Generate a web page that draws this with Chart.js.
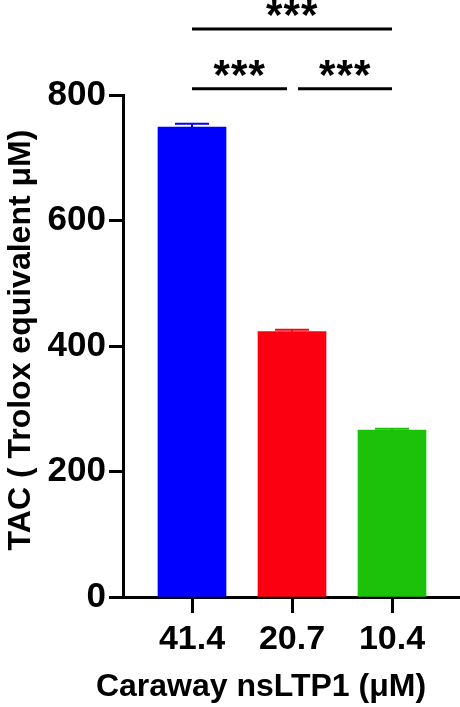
<!DOCTYPE html>
<html>
<head>
<meta charset="utf-8">
<script src="https://cdn.jsdelivr.net/npm/chart.js@4/dist/chart.umd.min.js"></script>
<style>
  html, body { margin: 0; padding: 0; background: #fff; }
  #wrap { width: 460px; height: 707px; position: relative; }
</style>
</head>
<body>
<div id="wrap"><canvas id="c"></canvas></div>
<script>
const categories = ['41.4', '20.7', '10.4'];
const values = [749, 423, 266];
const errors = [5, 3, 2];
const barColors = ['#0000FF', '#FA0010', '#1CC10A'];
const yTicks = [0, 200, 400, 600, 800];
const comparisons = [
  { from: 0, to: 1, label: '***', level: 810 },
  { from: 1, to: 2, label: '***', level: 810 },
  { from: 0, to: 2, label: '***', level: 905 }
];
const xTitle = 'Caraway nsLTP1 (\u03BCM)';
const yTitle = 'TAC ( Trolox equivalent \u03BCM)';

const FONT = "'Liberation Sans', Arial, Helvetica, sans-serif";

const extrasPlugin = {
  id: 'extras',
  afterDatasetsDraw(chart) {
    const ctx = chart.ctx;
    const xs = chart.scales.x, ys = chart.scales.y;
    const meta = chart.getDatasetMeta(0);
    values.forEach((v, i) => {
      const bar = meta.data[i];
      const cx = xs.getPixelForValue(i);
      const yb = ys.getPixelForValue(v);
      const yt = ys.getPixelForValue(v + errors[i]);
      const half = bar.width / 4;
      ctx.save();
      ctx.strokeStyle = barColors[i];
      ctx.lineWidth = 2;
      ctx.beginPath();
      ctx.moveTo(cx, yb);
      ctx.lineTo(cx, yt);
      ctx.moveTo(cx - half, yt);
      ctx.lineTo(cx + half, yt);
      ctx.stroke();
      ctx.restore();
    });
  },
  afterDraw(chart) {
    const ctx = chart.ctx;
    const xs = chart.scales.x, ys = chart.scales.y;
    comparisons.forEach((c) => {
      let x1 = xs.getPixelForValue(c.from);
      let x2 = xs.getPixelForValue(c.to);
      comparisons.forEach((o) => {
        if (o === c || o.level !== c.level) return;
        if (o.to === c.from) x1 += 6;
        if (o.from === c.to) x2 -= 5;
      });
      const y = ys.getPixelForValue(c.level);
      ctx.save();
      ctx.strokeStyle = '#000';
      ctx.lineWidth = 3;
      ctx.beginPath();
      ctx.moveTo(x1, y);
      ctx.lineTo(x2, y);
      ctx.stroke();
      // size the star glyphs from their measured ink box
      ctx.fillStyle = '#000';
      ctx.textAlign = 'left';
      ctx.textBaseline = 'alphabetic';
      ctx.font = 'bold 100px ' + FONT;
      const m = ctx.measureText('*');
      const h100 = m.actualBoundingBoxAscent + m.actualBoundingBoxDescent;
      const size = 100 * 16 / h100;
      ctx.font = 'bold ' + size.toFixed(2) + 'px ' + FONT;
      const ms = ctx.measureText('*');
      const inkW = ms.actualBoundingBoxLeft + ms.actualBoundingBoxRight;
      const step = 17.5;
      const total = step * (c.label.length - 1) + inkW;
      const left = (x1 + x2) / 2 - total / 2;
      const baseline = (y - 13) - ms.actualBoundingBoxDescent;
      for (let k = 0; k < c.label.length; k++) {
        ctx.fillText(c.label[k], left + k * step + ms.actualBoundingBoxLeft, baseline);
      }
      ctx.restore();
    });
    ctx.save();
    ctx.fillStyle = '#000';
    ctx.font = 'bold 32px ' + FONT;
    ctx.textAlign = 'center';
    ctx.textBaseline = 'middle';
    ctx.fillText(xTitle, 261, 687);
    ctx.translate(21, 340);
    ctx.rotate(-Math.PI / 2);
    ctx.fillText(yTitle, 0, 0);
    ctx.restore();
  }
};

new Chart(document.getElementById('c'), {
  type: 'bar',
  data: {
    datasets: [{
      data: categories.map((c, i) => ({ x: i, y: values[i] })),
      backgroundColor: barColors,
      borderWidth: 0,
      barThickness: 68
    }]
  },
  options: {
    responsive: true,
    maintainAspectRatio: false,
    animation: false,
    layout: { padding: { top: 95, left: 0, right: 0, bottom: 55 } },
    plugins: { legend: { display: false }, tooltip: { enabled: false } },
    scales: {
      x: {
        type: 'linear',
        offset: false,
        min: -0.69,
        max: 2.68,
        afterBuildTicks(scale) { scale.ticks = categories.map((c, i) => ({ value: i })); },
        afterFit(scale) { scale.height = 55; },
        ticks: {
          autoSkip: false,
          maxRotation: 0,
          padding: 6,
          color: '#000',
          font: { family: FONT, size: 34, weight: 'bold' },
          callback: (v) => categories[v]
        },
        grid: { offset: false, drawOnChartArea: false, drawTicks: true, tickLength: 16, tickWidth: 3, tickColor: '#000' },
        border: { display: true, color: '#000', width: 3 }
      },
      y: {
        min: 0,
        max: 800,
        afterBuildTicks(scale) { scale.ticks = yTicks.map((v) => ({ value: v })); },
        afterFit(scale) { scale.width = 123; },
        ticks: {
          padding: 3,
          color: '#000',
          font: { family: FONT, size: 35, weight: 'bold' }
        },
        grid: { drawOnChartArea: false, drawTicks: true, tickLength: 14, tickWidth: 3, tickColor: '#000' },
        border: { display: true, color: '#000', width: 3 }
      }
    }
  },
  plugins: [extrasPlugin]
});
</script>
</body>
</html>
